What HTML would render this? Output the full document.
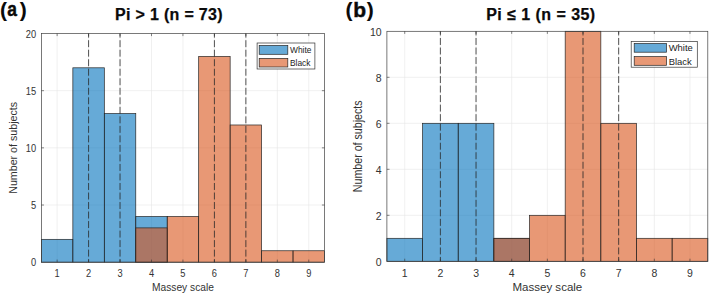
<!DOCTYPE html>
<html><head><meta charset="utf-8"><title>Massey scale histograms</title>
<style>
html,body{margin:0;padding:0;background:#fff;}
body{width:709px;height:294px;overflow:hidden;}
svg{display:block;}
text{font-family:"Liberation Sans",sans-serif;fill:#262626;}
.tk{font-size:10px;fill:#333;}
.lb{font-size:11px;fill:#333;}
.lg{font-size:9px;fill:#222;}
.pn{font-size:21px;font-weight:bold;fill:#0a0a0a;stroke:#0a0a0a;stroke-width:0.45px;}
.pp{stroke-width:0.1px;}
.tt{font-size:16px;font-weight:bold;fill:#0a0a0a;stroke:#0a0a0a;stroke-width:0.25px;}
</style></head><body>
<svg width="709" height="294" viewBox="0 0 709 294">
<rect width="709" height="294" fill="#fff"/>
<rect x="41.40" y="33.50" width="283.10" height="228.70" fill="#fff"/>
<line x1="57.13" x2="57.13" y1="33.50" y2="262.20" stroke="#e6e6e6" stroke-width="0.6"/>
<line x1="88.58" x2="88.58" y1="33.50" y2="262.20" stroke="#e6e6e6" stroke-width="0.6"/>
<line x1="120.04" x2="120.04" y1="33.50" y2="262.20" stroke="#e6e6e6" stroke-width="0.6"/>
<line x1="151.49" x2="151.49" y1="33.50" y2="262.20" stroke="#e6e6e6" stroke-width="0.6"/>
<line x1="182.95" x2="182.95" y1="33.50" y2="262.20" stroke="#e6e6e6" stroke-width="0.6"/>
<line x1="214.41" x2="214.41" y1="33.50" y2="262.20" stroke="#e6e6e6" stroke-width="0.6"/>
<line x1="245.86" x2="245.86" y1="33.50" y2="262.20" stroke="#e6e6e6" stroke-width="0.6"/>
<line x1="277.32" x2="277.32" y1="33.50" y2="262.20" stroke="#e6e6e6" stroke-width="0.6"/>
<line x1="308.77" x2="308.77" y1="33.50" y2="262.20" stroke="#e6e6e6" stroke-width="0.6"/>
<line x1="41.40" x2="324.50" y1="205.02" y2="205.02" stroke="#e6e6e6" stroke-width="0.6"/>
<line x1="41.40" x2="324.50" y1="147.85" y2="147.85" stroke="#e6e6e6" stroke-width="0.6"/>
<line x1="41.40" x2="324.50" y1="90.68" y2="90.68" stroke="#e6e6e6" stroke-width="0.6"/>
<rect x="41.40" y="239.33" width="31.46" height="22.87" fill="#0072BD" fill-opacity="0.6" stroke="#262626" stroke-width="0.7"/>
<rect x="72.86" y="67.81" width="31.46" height="194.39" fill="#0072BD" fill-opacity="0.6" stroke="#262626" stroke-width="0.7"/>
<rect x="104.31" y="113.55" width="31.46" height="148.65" fill="#0072BD" fill-opacity="0.6" stroke="#262626" stroke-width="0.7"/>
<rect x="135.77" y="216.46" width="31.46" height="45.74" fill="#0072BD" fill-opacity="0.6" stroke="#262626" stroke-width="0.7"/>
<rect x="135.77" y="227.89" width="31.46" height="34.30" fill="#D95319" fill-opacity="0.6" stroke="#262626" stroke-width="0.7"/>
<rect x="167.22" y="216.46" width="31.46" height="45.74" fill="#D95319" fill-opacity="0.6" stroke="#262626" stroke-width="0.7"/>
<rect x="198.68" y="56.37" width="31.46" height="205.83" fill="#D95319" fill-opacity="0.6" stroke="#262626" stroke-width="0.7"/>
<rect x="230.13" y="124.98" width="31.46" height="137.22" fill="#D95319" fill-opacity="0.6" stroke="#262626" stroke-width="0.7"/>
<rect x="261.59" y="250.76" width="31.46" height="11.43" fill="#D95319" fill-opacity="0.6" stroke="#262626" stroke-width="0.7"/>
<rect x="293.04" y="250.76" width="31.46" height="11.43" fill="#D95319" fill-opacity="0.6" stroke="#262626" stroke-width="0.7"/>
<line x1="88.58" x2="88.58" y1="33.50" y2="262.20" stroke="#2a2a2a" stroke-width="0.8" stroke-dasharray="6.95 2.57" stroke-dashoffset="2.82"/>
<line x1="120.04" x2="120.04" y1="33.50" y2="262.20" stroke="#2a2a2a" stroke-width="0.8" stroke-dasharray="6.95 2.57" stroke-dashoffset="2.82"/>
<line x1="214.41" x2="214.41" y1="33.50" y2="262.20" stroke="#2a2a2a" stroke-width="0.8" stroke-dasharray="6.95 2.57" stroke-dashoffset="2.82"/>
<line x1="245.86" x2="245.86" y1="33.50" y2="262.20" stroke="#2a2a2a" stroke-width="0.8" stroke-dasharray="6.95 2.57" stroke-dashoffset="2.82"/>
<rect x="41.40" y="33.50" width="283.10" height="228.70" fill="none" stroke="#404040" stroke-width="0.7"/>
<line x1="57.13" x2="57.13" y1="262.20" y2="259.60" stroke="#333" stroke-width="0.6"/>
<line x1="57.13" x2="57.13" y1="33.50" y2="36.10" stroke="#333" stroke-width="0.6"/>
<text transform="translate(57.13,277.10) scale(0.93,1)" class="tk" text-anchor="middle">1</text>
<line x1="88.58" x2="88.58" y1="262.20" y2="259.60" stroke="#333" stroke-width="0.6"/>
<line x1="88.58" x2="88.58" y1="33.50" y2="36.10" stroke="#333" stroke-width="0.6"/>
<text transform="translate(88.58,277.10) scale(0.93,1)" class="tk" text-anchor="middle">2</text>
<line x1="120.04" x2="120.04" y1="262.20" y2="259.60" stroke="#333" stroke-width="0.6"/>
<line x1="120.04" x2="120.04" y1="33.50" y2="36.10" stroke="#333" stroke-width="0.6"/>
<text transform="translate(120.04,277.10) scale(0.93,1)" class="tk" text-anchor="middle">3</text>
<line x1="151.49" x2="151.49" y1="262.20" y2="259.60" stroke="#333" stroke-width="0.6"/>
<line x1="151.49" x2="151.49" y1="33.50" y2="36.10" stroke="#333" stroke-width="0.6"/>
<text transform="translate(151.49,277.10) scale(0.93,1)" class="tk" text-anchor="middle">4</text>
<line x1="182.95" x2="182.95" y1="262.20" y2="259.60" stroke="#333" stroke-width="0.6"/>
<line x1="182.95" x2="182.95" y1="33.50" y2="36.10" stroke="#333" stroke-width="0.6"/>
<text transform="translate(182.95,277.10) scale(0.93,1)" class="tk" text-anchor="middle">5</text>
<line x1="214.41" x2="214.41" y1="262.20" y2="259.60" stroke="#333" stroke-width="0.6"/>
<line x1="214.41" x2="214.41" y1="33.50" y2="36.10" stroke="#333" stroke-width="0.6"/>
<text transform="translate(214.41,277.10) scale(0.93,1)" class="tk" text-anchor="middle">6</text>
<line x1="245.86" x2="245.86" y1="262.20" y2="259.60" stroke="#333" stroke-width="0.6"/>
<line x1="245.86" x2="245.86" y1="33.50" y2="36.10" stroke="#333" stroke-width="0.6"/>
<text transform="translate(245.86,277.10) scale(0.93,1)" class="tk" text-anchor="middle">7</text>
<line x1="277.32" x2="277.32" y1="262.20" y2="259.60" stroke="#333" stroke-width="0.6"/>
<line x1="277.32" x2="277.32" y1="33.50" y2="36.10" stroke="#333" stroke-width="0.6"/>
<text transform="translate(277.32,277.10) scale(0.93,1)" class="tk" text-anchor="middle">8</text>
<line x1="308.77" x2="308.77" y1="262.20" y2="259.60" stroke="#333" stroke-width="0.6"/>
<line x1="308.77" x2="308.77" y1="33.50" y2="36.10" stroke="#333" stroke-width="0.6"/>
<text transform="translate(308.77,277.10) scale(0.93,1)" class="tk" text-anchor="middle">9</text>
<text transform="translate(36.20,266.20) scale(0.93,1)" class="tk" text-anchor="end">0</text>
<line x1="41.40" x2="44.00" y1="205.02" y2="205.02" stroke="#333" stroke-width="0.6"/>
<line x1="324.50" x2="321.90" y1="205.02" y2="205.02" stroke="#333" stroke-width="0.6"/>
<text transform="translate(36.20,209.02) scale(0.93,1)" class="tk" text-anchor="end">5</text>
<line x1="41.40" x2="44.00" y1="147.85" y2="147.85" stroke="#333" stroke-width="0.6"/>
<line x1="324.50" x2="321.90" y1="147.85" y2="147.85" stroke="#333" stroke-width="0.6"/>
<text transform="translate(36.20,151.85) scale(0.93,1)" class="tk" text-anchor="end">10</text>
<line x1="41.40" x2="44.00" y1="90.68" y2="90.68" stroke="#333" stroke-width="0.6"/>
<line x1="324.50" x2="321.90" y1="90.68" y2="90.68" stroke="#333" stroke-width="0.6"/>
<text transform="translate(36.20,94.68) scale(0.93,1)" class="tk" text-anchor="end">15</text>
<text transform="translate(36.20,37.50) scale(0.93,1)" class="tk" text-anchor="end">20</text>
<text transform="translate(182.95,291.40) scale(0.93,1)" class="lb" text-anchor="middle">Massey scale</text>
<text transform="translate(16.50,147.85) rotate(-90) scale(0.97,1.0)" class="lb" text-anchor="middle">Number of subjects</text>
<rect x="257.1" y="43.0" width="57.80" height="26.00" fill="#fff" stroke="#333" stroke-width="0.7"/>
<rect x="259.2" y="45.5" width="28.60" height="8.80" fill="#0072BD" fill-opacity="0.6" stroke="#262626" stroke-width="0.7"/>
<rect x="259.2" y="58.4" width="28.60" height="8.60" fill="#D95319" fill-opacity="0.6" stroke="#262626" stroke-width="0.7"/>
<text transform="translate(290.00,53.10) scale(0.93,1)" class="lg" text-anchor="start">White</text>
<text transform="translate(290.00,65.90) scale(0.93,1)" class="lg" text-anchor="start">Black</text>
<rect x="386.90" y="31.30" width="320.90" height="230.00" fill="#fff"/>
<line x1="404.73" x2="404.73" y1="31.30" y2="261.30" stroke="#e6e6e6" stroke-width="0.6"/>
<line x1="440.38" x2="440.38" y1="31.30" y2="261.30" stroke="#e6e6e6" stroke-width="0.6"/>
<line x1="476.04" x2="476.04" y1="31.30" y2="261.30" stroke="#e6e6e6" stroke-width="0.6"/>
<line x1="511.69" x2="511.69" y1="31.30" y2="261.30" stroke="#e6e6e6" stroke-width="0.6"/>
<line x1="547.35" x2="547.35" y1="31.30" y2="261.30" stroke="#e6e6e6" stroke-width="0.6"/>
<line x1="583.01" x2="583.01" y1="31.30" y2="261.30" stroke="#e6e6e6" stroke-width="0.6"/>
<line x1="618.66" x2="618.66" y1="31.30" y2="261.30" stroke="#e6e6e6" stroke-width="0.6"/>
<line x1="654.32" x2="654.32" y1="31.30" y2="261.30" stroke="#e6e6e6" stroke-width="0.6"/>
<line x1="689.97" x2="689.97" y1="31.30" y2="261.30" stroke="#e6e6e6" stroke-width="0.6"/>
<line x1="386.90" x2="707.80" y1="215.30" y2="215.30" stroke="#e6e6e6" stroke-width="0.6"/>
<line x1="386.90" x2="707.80" y1="169.30" y2="169.30" stroke="#e6e6e6" stroke-width="0.6"/>
<line x1="386.90" x2="707.80" y1="123.30" y2="123.30" stroke="#e6e6e6" stroke-width="0.6"/>
<line x1="386.90" x2="707.80" y1="77.30" y2="77.30" stroke="#e6e6e6" stroke-width="0.6"/>
<rect x="386.90" y="238.30" width="35.66" height="23.00" fill="#0072BD" fill-opacity="0.6" stroke="#262626" stroke-width="0.7"/>
<rect x="422.56" y="123.30" width="35.66" height="138.00" fill="#0072BD" fill-opacity="0.6" stroke="#262626" stroke-width="0.7"/>
<rect x="458.21" y="123.30" width="35.66" height="138.00" fill="#0072BD" fill-opacity="0.6" stroke="#262626" stroke-width="0.7"/>
<rect x="493.87" y="238.30" width="35.66" height="23.00" fill="#0072BD" fill-opacity="0.6" stroke="#262626" stroke-width="0.7"/>
<rect x="493.87" y="238.30" width="35.66" height="23.00" fill="#D95319" fill-opacity="0.6" stroke="#262626" stroke-width="0.7"/>
<rect x="529.52" y="215.30" width="35.66" height="46.00" fill="#D95319" fill-opacity="0.6" stroke="#262626" stroke-width="0.7"/>
<rect x="565.18" y="31.30" width="35.66" height="230.00" fill="#D95319" fill-opacity="0.6" stroke="#262626" stroke-width="0.7"/>
<rect x="600.83" y="123.30" width="35.66" height="138.00" fill="#D95319" fill-opacity="0.6" stroke="#262626" stroke-width="0.7"/>
<rect x="636.49" y="238.30" width="35.66" height="23.00" fill="#D95319" fill-opacity="0.6" stroke="#262626" stroke-width="0.7"/>
<rect x="672.14" y="238.30" width="35.66" height="23.00" fill="#D95319" fill-opacity="0.6" stroke="#262626" stroke-width="0.7"/>
<line x1="440.38" x2="440.38" y1="31.30" y2="261.30" stroke="#2a2a2a" stroke-width="0.8" stroke-dasharray="6.95 2.57" stroke-dashoffset="2.82"/>
<line x1="476.04" x2="476.04" y1="31.30" y2="261.30" stroke="#2a2a2a" stroke-width="0.8" stroke-dasharray="6.95 2.57" stroke-dashoffset="2.82"/>
<line x1="583.01" x2="583.01" y1="31.30" y2="261.30" stroke="#2a2a2a" stroke-width="0.8" stroke-dasharray="6.95 2.57" stroke-dashoffset="2.82"/>
<line x1="618.66" x2="618.66" y1="31.30" y2="261.30" stroke="#2a2a2a" stroke-width="0.8" stroke-dasharray="6.95 2.57" stroke-dashoffset="2.82"/>
<rect x="386.90" y="31.30" width="320.90" height="230.00" fill="none" stroke="#404040" stroke-width="0.7"/>
<line x1="404.73" x2="404.73" y1="261.30" y2="258.70" stroke="#333" stroke-width="0.6"/>
<line x1="404.73" x2="404.73" y1="31.30" y2="33.90" stroke="#333" stroke-width="0.6"/>
<text transform="translate(404.73,276.70) scale(1.05,1)" class="tk" text-anchor="middle">1</text>
<line x1="440.38" x2="440.38" y1="261.30" y2="258.70" stroke="#333" stroke-width="0.6"/>
<line x1="440.38" x2="440.38" y1="31.30" y2="33.90" stroke="#333" stroke-width="0.6"/>
<text transform="translate(440.38,276.70) scale(1.05,1)" class="tk" text-anchor="middle">2</text>
<line x1="476.04" x2="476.04" y1="261.30" y2="258.70" stroke="#333" stroke-width="0.6"/>
<line x1="476.04" x2="476.04" y1="31.30" y2="33.90" stroke="#333" stroke-width="0.6"/>
<text transform="translate(476.04,276.70) scale(1.05,1)" class="tk" text-anchor="middle">3</text>
<line x1="511.69" x2="511.69" y1="261.30" y2="258.70" stroke="#333" stroke-width="0.6"/>
<line x1="511.69" x2="511.69" y1="31.30" y2="33.90" stroke="#333" stroke-width="0.6"/>
<text transform="translate(511.69,276.70) scale(1.05,1)" class="tk" text-anchor="middle">4</text>
<line x1="547.35" x2="547.35" y1="261.30" y2="258.70" stroke="#333" stroke-width="0.6"/>
<line x1="547.35" x2="547.35" y1="31.30" y2="33.90" stroke="#333" stroke-width="0.6"/>
<text transform="translate(547.35,276.70) scale(1.05,1)" class="tk" text-anchor="middle">5</text>
<line x1="583.01" x2="583.01" y1="261.30" y2="258.70" stroke="#333" stroke-width="0.6"/>
<line x1="583.01" x2="583.01" y1="31.30" y2="33.90" stroke="#333" stroke-width="0.6"/>
<text transform="translate(583.01,276.70) scale(1.05,1)" class="tk" text-anchor="middle">6</text>
<line x1="618.66" x2="618.66" y1="261.30" y2="258.70" stroke="#333" stroke-width="0.6"/>
<line x1="618.66" x2="618.66" y1="31.30" y2="33.90" stroke="#333" stroke-width="0.6"/>
<text transform="translate(618.66,276.70) scale(1.05,1)" class="tk" text-anchor="middle">7</text>
<line x1="654.32" x2="654.32" y1="261.30" y2="258.70" stroke="#333" stroke-width="0.6"/>
<line x1="654.32" x2="654.32" y1="31.30" y2="33.90" stroke="#333" stroke-width="0.6"/>
<text transform="translate(654.32,276.70) scale(1.05,1)" class="tk" text-anchor="middle">8</text>
<line x1="689.97" x2="689.97" y1="261.30" y2="258.70" stroke="#333" stroke-width="0.6"/>
<line x1="689.97" x2="689.97" y1="31.30" y2="33.90" stroke="#333" stroke-width="0.6"/>
<text transform="translate(689.97,276.70) scale(1.05,1)" class="tk" text-anchor="middle">9</text>
<text transform="translate(381.70,265.70) scale(1.05,1)" class="tk" text-anchor="end">0</text>
<line x1="386.90" x2="389.50" y1="215.30" y2="215.30" stroke="#333" stroke-width="0.6"/>
<text transform="translate(381.70,219.70) scale(1.05,1)" class="tk" text-anchor="end">2</text>
<line x1="386.90" x2="389.50" y1="169.30" y2="169.30" stroke="#333" stroke-width="0.6"/>
<text transform="translate(381.70,173.70) scale(1.05,1)" class="tk" text-anchor="end">4</text>
<line x1="386.90" x2="389.50" y1="123.30" y2="123.30" stroke="#333" stroke-width="0.6"/>
<text transform="translate(381.70,127.70) scale(1.05,1)" class="tk" text-anchor="end">6</text>
<line x1="386.90" x2="389.50" y1="77.30" y2="77.30" stroke="#333" stroke-width="0.6"/>
<text transform="translate(381.70,81.70) scale(1.05,1)" class="tk" text-anchor="end">8</text>
<text transform="translate(381.70,35.70) scale(1.05,1)" class="tk" text-anchor="end">10</text>
<text transform="translate(547.35,290.50) scale(1.05,1)" class="lb" text-anchor="middle">Massey scale</text>
<text transform="translate(362.00,146.30) rotate(-90) scale(0.97,1.08)" class="lb" text-anchor="middle">Number of subjects</text>
<rect x="631.2" y="41.4" width="66.10" height="25.80" fill="#fff" stroke="#333" stroke-width="0.7"/>
<rect x="634.2" y="43.5" width="32.30" height="8.70" fill="#0072BD" fill-opacity="0.6" stroke="#262626" stroke-width="0.7"/>
<rect x="634.2" y="56.6" width="32.30" height="8.70" fill="#D95319" fill-opacity="0.6" stroke="#262626" stroke-width="0.7"/>
<text transform="translate(668.70,51.45) scale(1.05,1)" class="lg" text-anchor="start">White</text>
<text transform="translate(668.70,64.55) scale(1.05,1)" class="lg" text-anchor="start">Black</text>
<text x="0.1" y="16.6" class="pn pp">(</text><text transform="translate(7.3,16.4) scale(0.83,1)" class="pn">a</text><text x="19.7" y="16.6" class="pn pp">)</text>
<text x="345.6" y="16.7" class="pn pp">(</text><text x="353.3" y="16.5" class="pn">b</text><text x="366.7" y="16.7" class="pn pp">)</text>
<text x="115" y="19.5" class="tt" textLength="107.6" lengthAdjust="spacing">Pi &gt; 1 (n = 73)</text>
<text x="486.2" y="20.3" class="tt" textLength="109" lengthAdjust="spacing">Pi ≤ 1 (n = 35)</text>
</svg>
</body></html>
